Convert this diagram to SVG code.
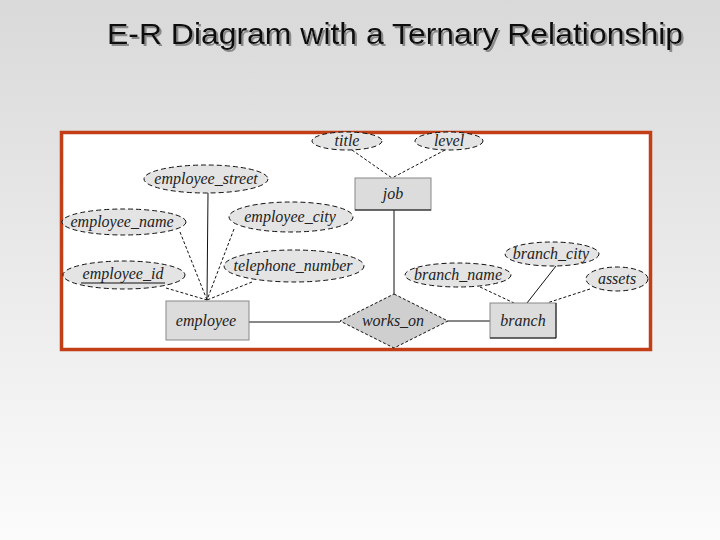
<svg xmlns="http://www.w3.org/2000/svg" width="720" height="540" viewBox="0 0 720 540">
<defs>
<linearGradient id="bg" x1="0" y1="0" x2="0" y2="1">
<stop offset="0" stop-color="#d9d9d9"/>
<stop offset="1" stop-color="#fbfbfb"/>
</linearGradient>
<filter id="shadow" x="-5%" y="-20%" width="110%" height="160%">
<feDropShadow dx="2" dy="2" stdDeviation="0.6" flood-color="#8a8a8a" flood-opacity="1"/>
</filter>
<style>
.attr{fill:#e4e4e4;stroke:#111;stroke-width:1;stroke-dasharray:5,3}
.ent{fill:#dcdcdc;stroke:#888;stroke-width:1}
.rel{fill:#cfcfcf;stroke:#111;stroke-width:1;stroke-dasharray:3,2}
.lbl{font-family:"Liberation Serif","DejaVu Serif",serif;font-style:italic;font-size:16px;fill:#222;text-anchor:middle}
.solid{stroke:#111;stroke-width:1;fill:none}
.dash{stroke:#111;stroke-width:1;fill:none;stroke-dasharray:3,2}
.title{font-family:"Liberation Sans",Arial,sans-serif;font-size:30px;fill:#111}
</style>
</defs>
<rect x="0" y="0" width="720" height="540" fill="url(#bg)"/>
<text class="title" x="107" y="44" textLength="576" lengthAdjust="spacingAndGlyphs" filter="url(#shadow)">E-R Diagram with a Ternary Relationship</text>
<rect x="61.5" y="132.5" width="589" height="217" fill="#ffffff" stroke="#c23e16" stroke-width="3.5"/>
<g id="connectors">
<line class="dash" x1="352" y1="150" x2="392" y2="178"/>
<line class="dash" x1="445" y1="150" x2="392" y2="178"/>
<line class="solid" x1="394" y1="210" x2="394" y2="294"/>
<line class="solid" x1="249" y1="322" x2="340" y2="322"/>
<line class="solid" x1="448" y1="321" x2="490" y2="321"/>
<line class="solid" x1="208" y1="193" x2="207" y2="300"/>
<line class="dash" x1="180" y1="232" x2="207" y2="300"/>
<line class="dash" x1="234" y1="229" x2="207" y2="300"/>
<line class="dash" x1="252" y1="282" x2="207" y2="300"/>
<line class="dash" x1="166" y1="288" x2="207" y2="300"/>
<line class="dash" x1="480" y1="287" x2="514" y2="303"/>
<line class="solid" x1="556" y1="266" x2="527" y2="303"/>
<line class="dash" x1="590" y1="289" x2="547" y2="303"/>
</g>
<g id="title_attr"><ellipse class="attr" cx="347" cy="141" rx="35" ry="9"/><text class="lbl" x="347" y="146">title</text></g>
<g id="level"><ellipse class="attr" cx="449" cy="141" rx="34" ry="9"/><text class="lbl" x="449" y="146">level</text></g>
<g id="job"><rect class="ent" x="355" y="178" width="76" height="32"/><line class="solid" x1="355" y1="210" x2="431" y2="210"/><text class="lbl" x="393" y="199">job</text></g>
<g id="employee_street"><ellipse class="attr" cx="206" cy="179" rx="62" ry="14"/><text class="lbl" x="206" y="184">employee_street</text></g>
<g id="employee_name"><ellipse class="attr" cx="124" cy="222" rx="62" ry="13"/><text class="lbl" x="122" y="227">employee_name</text></g>
<g id="employee_city"><ellipse class="attr" cx="291" cy="217" rx="62" ry="15"/><text class="lbl" x="290" y="222">employee_city</text></g>
<g id="telephone_number"><ellipse class="attr" cx="294" cy="266" rx="70" ry="16"/><text class="lbl" x="293" y="271">telephone_number</text></g>
<g id="employee_id"><ellipse class="attr" cx="124" cy="275" rx="61" ry="14"/><text class="lbl" x="123" y="279">employee_id</text><line class="solid" x1="81" y1="283" x2="165" y2="283"/></g>
<g id="employee"><rect class="ent" x="166" y="301" width="83" height="39"/><text class="lbl" x="206" y="326">employee</text></g>
<g id="works_on"><polygon class="rel" points="394,294 448,321 394,348 340,321"/><text class="lbl" x="393" y="326">works_on</text></g>
<g id="branch_name"><ellipse class="attr" cx="458" cy="275" rx="53" ry="12"/><text class="lbl" x="458" y="280">branch_name</text></g>
<g id="branch_city"><ellipse class="attr" cx="552" cy="254" rx="47" ry="12"/><text class="lbl" x="551" y="259">branch_city</text></g>
<g id="assets"><ellipse class="attr" cx="617" cy="279" rx="31" ry="12"/><text class="lbl" x="617" y="284">assets</text></g>
<g id="branch"><rect class="ent" x="490" y="303" width="66" height="35"/><polyline class="solid" points="556,303 556,338 490,338"/><text class="lbl" x="523" y="326">branch</text></g>
</svg>
